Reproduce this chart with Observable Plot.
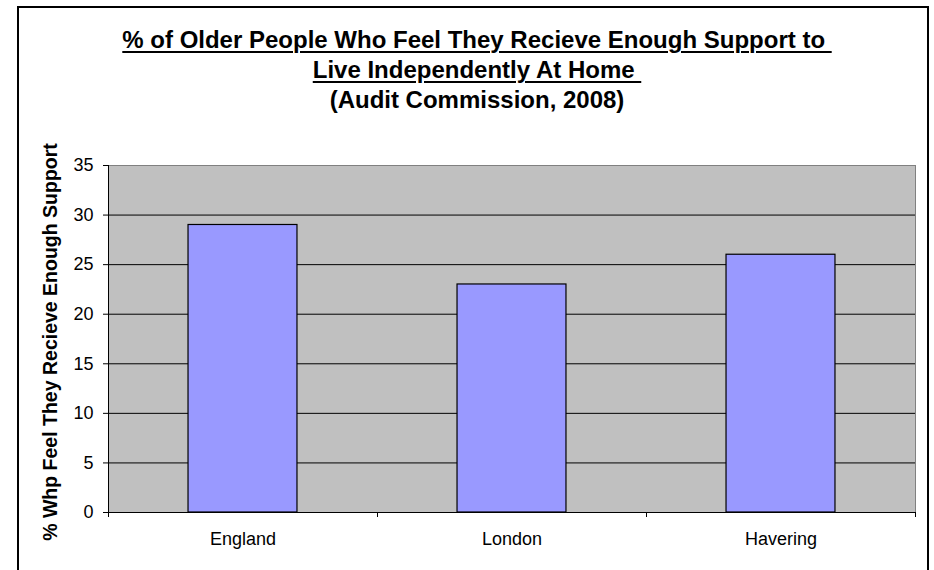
<!DOCTYPE html>
<html>
<head>
<meta charset="utf-8">
<script src="https://cdn.jsdelivr.net/npm/d3@7"></script>
<script src="https://cdn.jsdelivr.net/npm/@observablehq/plot@0.6"></script>
<style>
  html, body { margin: 0; padding: 0; background: #fff; overflow: hidden; }
  #page { position: relative; width: 934px; height: 570px; font-family: "Liberation Sans", Arial, sans-serif; }
  #border { position: absolute; left: 17px; top: 6px; width: 908px; height: 600px; border: 2px solid #000; box-sizing: content-box; }
  #title { position: absolute; left: 20px; top: 25px; width: 914px; text-align: center; font-weight: bold; font-size: 24px; line-height: 30px; color: #000; }
  #title .u { text-decoration: underline; text-decoration-thickness: 2px; text-underline-offset: 3px; white-space: pre; }
  #ylabel { position: absolute; left: 49.5px; top: 341.5px; transform: translate(-50%, -50%) rotate(-90deg); white-space: nowrap; font-weight: bold; font-size: 19.5px; color: #000; }
  #chart { position: absolute; left: 0; top: 0; }
</style>
</head>
<body>
<div id="page">
  <div id="border"></div>
  <div id="chart"></div>
  <div id="title"></div>
  <div id="ylabel"></div>
</div>
<script>
const titleLines = [
  "% of Older People Who Feel They Recieve Enough Support to ",
  "Live Independently At Home ",
  "(Audit Commission, 2008)"
];
const yLabel = "% Whp Feel They Recieve Enough Support";
const categories = ["England", "London", "Havering"];
const values = [29, 23, 26];
const yTicks = [0, 5, 10, 15, 20, 25, 30, 35];
const gridValues = [5, 10, 15, 20, 25, 30];

const t = document.getElementById("title");
titleLines.forEach((line, i) => {
  const d = document.createElement("div");
  const s = document.createElement("span");
  s.textContent = line;
  if (i < 2) s.className = "u";
  d.appendChild(s);
  t.appendChild(d);
});
document.getElementById("ylabel").textContent = yLabel;

const data = categories.map((c, i) => ({category: c, value: values[i], index: i}));
const pad = 0.2975;
const boundaries = d3.range(categories.length + 1);
const centers = categories.map((c, i) => i + 0.5);

const chart = Plot.plot({
  width: 934,
  height: 570,
  marginTop: 165,
  marginBottom: 58,
  marginLeft: 108,
  marginRight: 19,
  style: {fontFamily: "'Liberation Sans', Arial, sans-serif", fontSize: "18px", color: "#000", background: "transparent"},
  x: {domain: [0, categories.length], axis: null},
  y: {domain: [0, 35], axis: null},
  marks: [
    Plot.frame({fill: "#C0C0C0", stroke: "#808080"}),
    Plot.ruleY(gridValues, {stroke: "#000", strokeWidth: 1}),
    Plot.rectY(data, {
      x1: d => d.index + pad,
      x2: d => d.index + 1 - pad,
      y1: 0,
      y2: "value",
      fill: "#9999FF",
      stroke: "#000",
      strokeWidth: 1.2
    }),
    Plot.ruleY([0], {stroke: "#000"}),
    Plot.ruleX([0], {stroke: "#000"}),
    Plot.axisY({ticks: yTicks, tickSize: 5, tickPadding: 10, label: null, fontSize: 18, stroke: "#000"}),
    Plot.axisX({ticks: boundaries, tickSize: 5, tickFormat: () => "", label: null, stroke: "#000"}),
    Plot.axisX({ticks: centers, tickSize: 0, tickPadding: 20, tickFormat: v => categories[Math.floor(v)], label: null, fontSize: 18})
  ]
});
document.getElementById("chart").appendChild(chart);
</script>
</body>
</html>
